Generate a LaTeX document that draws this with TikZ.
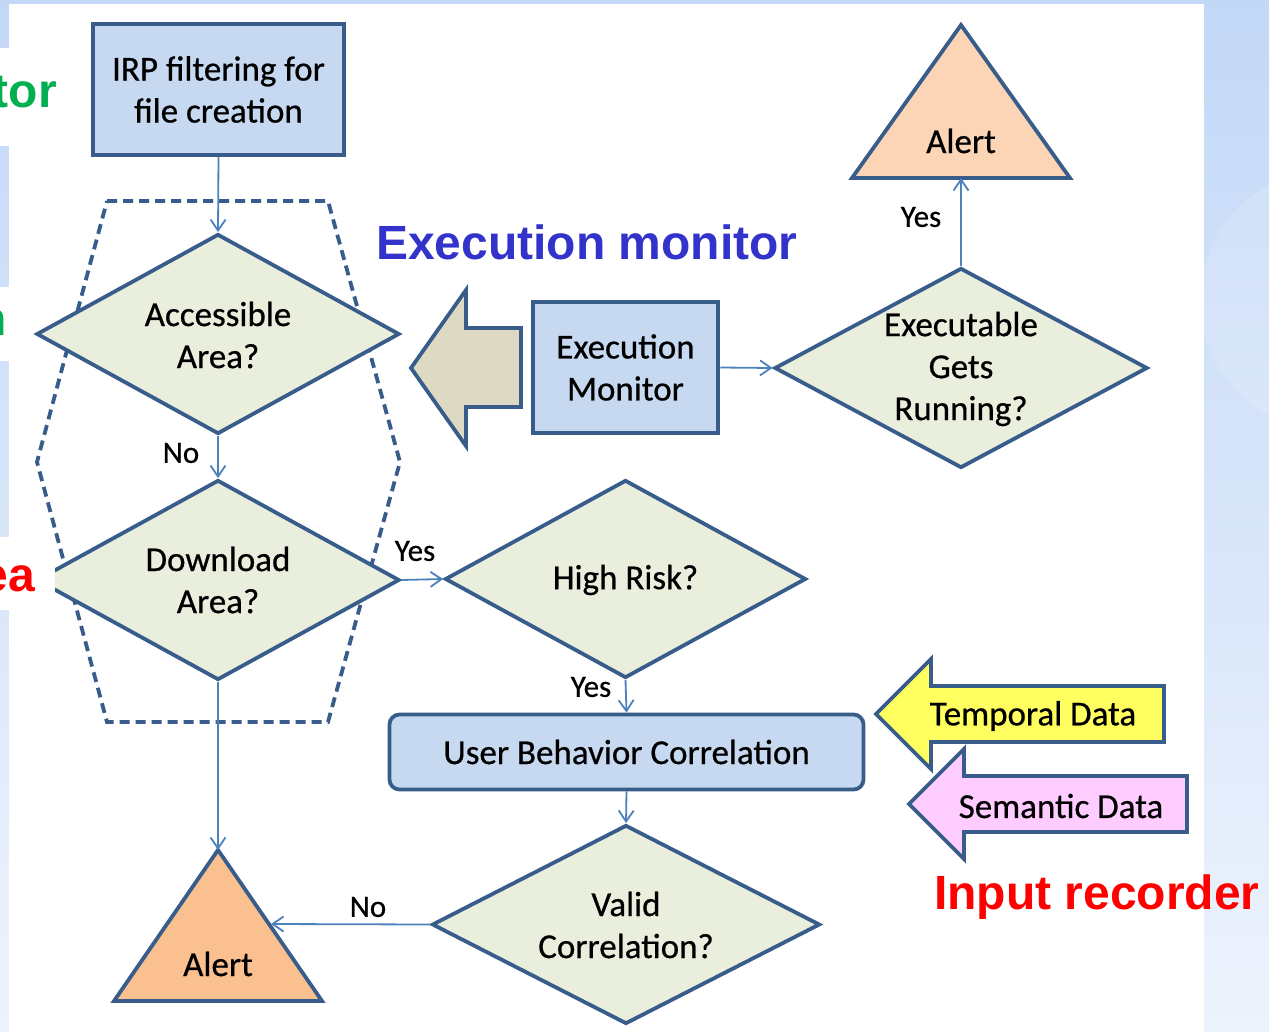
\documentclass[tikz,border=0pt]{standalone}
\usepackage{fontspec}
\setmainfont{Carlito}[UprightFeatures={FakeBold=0.6}]
\newfontfamily\headfont{Liberation Sans}
\usetikzlibrary{shapes.geometric,arrows.meta}

\definecolor{edge}{HTML}{385D8A}
\definecolor{link}{HTML}{4F81BD}
\definecolor{boxfill}{HTML}{C6D9F1}
\definecolor{decfill}{HTML}{EAEFDD}
\definecolor{alertlight}{HTML}{FBD5B5}
\definecolor{alertdark}{HTML}{FAC090}
\definecolor{beige}{HTML}{DDD9C3}
\definecolor{tempfill}{HTML}{FFFF5F}
\definecolor{semfill}{HTML}{FFCCFF}
\definecolor{headblue}{HTML}{3333CC}
\definecolor{headred}{HTML}{FF0000}
\definecolor{headgreen}{HTML}{00B050}
\definecolor{skytop}{HTML}{C3D8F7}
\definecolor{skybottom}{HTML}{EDF3FC}

\newcommand{\diagfont}{\fontsize{35}{42}\selectfont}
\newcommand{\lblfont}{\fontsize{31}{36}\selectfont}
\newcommand{\headsize}{\headfont\bfseries\fontsize{48}{56}\selectfont}

\begin{document}
\begin{tikzpicture}[x=1pt,y=-1pt,
  boxstyle/.style={rectangle, draw=edge, line width=4.5pt, fill=boxfill,
    font=\diagfont, align=center, inner sep=0pt},
  decision/.style={diamond, draw=edge, line width=3.8pt, fill=decfill, inner sep=0pt},
  txt/.style={font=\diagfont, align=center, inner sep=0pt},
  lbl/.style={font=\lblfont, inner sep=0pt},
  flow/.style={draw=link, line width=1.8pt, -{Straight Barb[length=11pt,width=15pt]}},
  groupline/.style={draw=edge, line width=3.8pt, dash pattern=on 10pt off 6pt},
  blockarrow/.style={draw=edge, line width=3.8pt, line join=miter},
  tri/.style={draw=edge, line width=3.8pt, line join=miter},
  head/.style={font=\headsize, inner sep=0pt}]

% page background and white slide area
\useasboundingbox (0,0) rectangle (1269,1032);
\shade[top color=skytop, bottom color=skybottom] (0,0) rectangle (1269,1032);
\begin{scope}
  \clip (1204,0) rectangle (1269,1032);
  \fill[white, opacity=0.15] (1330,300) circle (130);
\end{scope}
\fill[white] (9,4) rectangle (1204,1032);
\fill[white] (0,48) rectangle (60,146);
\fill[white] (0,287) rectangle (12,361);

% dashed group around the two area checks
\draw[groupline] (107,201) -- (328,201) -- (400,462) -- (328,722)
  -- (107,722) -- (37,462) -- cycle;

% main blocks
\node[boxstyle, minimum width=251pt, minimum height=131pt] (irp) at (218.5,89.5)
  {IRP filtering for\\file creation};
\node[decision, minimum width=363pt, minimum height=200pt] (acc) at (218,334) {};
\node[txt] (acctext) at (218,335) {Accessible\\Area?};
\node[decision, minimum width=363pt, minimum height=200pt] (dl) at (218,580) {};
\node[txt] (dltext) at (218,580) {Download\\Area?};
\node[decision, minimum width=361pt, minimum height=198pt] (hr) at (625.5,579) {};
\node[txt] (hrtext) at (625.5,580) {High Risk?};
\node[boxstyle, minimum width=185pt, minimum height=131pt] (em) at (625.5,367.5)
  {Execution\\Monitor};
\node[decision, minimum width=373pt, minimum height=200pt] (exr) at (961,368) {};
\node[txt] (exrtext) at (961,369) {Executable\\Gets\\Running?};
\node[boxstyle, line width=3.8pt, rounded corners=10pt, minimum width=474pt, minimum height=75pt]
  (ubc) at (626.5,752) {User Behavior Correlation};
\node[decision, minimum width=388pt, minimum height=199pt] (val) at (626,924.5) {};
\node[txt] (valtext) at (626,925) {Valid\\Correlation?};

% alert triangles
\draw[tri, fill=alertlight] (961,25) -- (1070,178) -- (852,178) -- cycle;
\coordinate (alerttopbase) at (961,178);
\node[txt] (alerttop) at (961,141) {Alert};
\draw[tri, fill=alertdark] (218,850) -- (322,1001) -- (114,1001) -- cycle;
\coordinate (alertlowapex) at (218,850);
\coordinate (alertlowside) at (271,924);
\node[txt] (alertlow) at (218,964) {Alert};

% block arrows
\draw[blockarrow, fill=beige] (411,368) -- (466,290) -- (466,328) -- (521,328)
  -- (521,407) -- (466,407) -- (466,446) -- cycle;
\draw[blockarrow, fill=tempfill] (876,714) -- (931,659) -- (931,686) -- (1164,686)
  -- (1164,742) -- (931,742) -- (931,769) -- cycle;
\node[txt] (temporal) at (1033,716) {Temporal Data};
\draw[blockarrow, fill=semfill] (909,804) -- (964,749) -- (964,776) -- (1187,776)
  -- (1187,832) -- (964,832) -- (964,859) -- cycle;
\node[txt] (semantic) at (1061,806) {Semantic Data};

% connectors
\draw[flow] (irp.south) -- (acc.north);
\draw[flow] (acc.south) -- (dl.north);
\draw[flow] (dl.east) -- (hr.west);
\draw[flow] (hr.south) -- (ubc.north);
\draw[flow] (ubc.south) -- (val.north);
\draw[flow] (val.west) -- (alertlowside);
\draw[flow] (dl.south) -- (alertlowapex);
\draw[flow] (em.east) -- (exr.west);
\draw[flow] (exr.north) -- (alerttopbase);

% connector labels
\node[lbl] (yesalert) at (921,217) {Yes};
\node[lbl] (noacc) at (181,453) {No};
\node[lbl] (yesdl) at (415,551) {Yes};
\node[lbl] (yeshr) at (591,687) {Yes};
\node[lbl] (noval) at (368,907) {No};

% headings
\node[head, text=headblue, anchor=base west] (emhead) at (376,260) {Execution monitor};
\node[head, text=headred, anchor=base west] (irhead) at (934,909) {Input recorder};

% labels cut off at the left edge
\fill[white] (0,537) rectangle (55,610);
\begin{scope}
  \clip (0,0) rectangle (1269,1032);
  \node[head, text=headgreen, anchor=base east] (cuttor) at (57,108) {tor};
  \node[head, text=headgreen, anchor=base east] (cutn) at (7,335) {n};
  \node[head, text=headred, anchor=base east] (cutea) at (35,591) {ea};
\end{scope}
\end{tikzpicture}
\end{document}
